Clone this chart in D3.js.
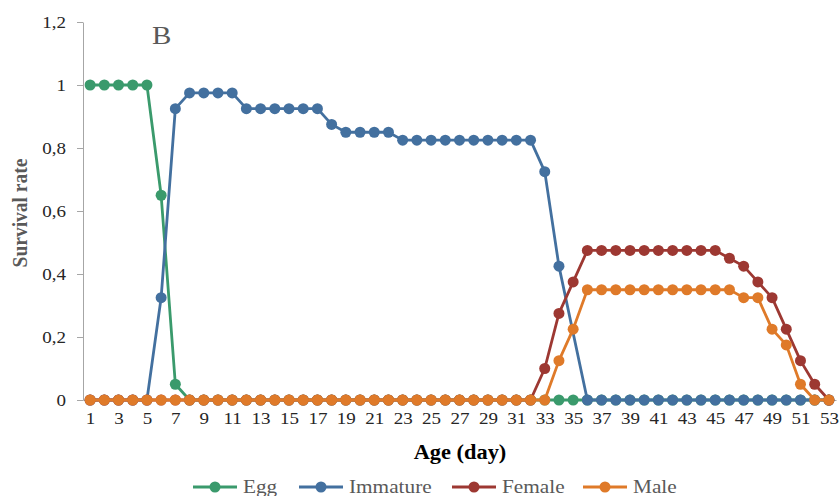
<!DOCTYPE html>
<html>
<head>
<meta charset="utf-8">
<script src="https://cdn.jsdelivr.net/npm/d3@7"></script>
<style>
  html, body { margin: 0; padding: 0; background: #fff; }
  svg text { font-family: "Liberation Serif", "Times New Roman", serif; }
</style>
</head>
<body>
<svg id="chart" width="839" height="496"></svg>
<script>
// Age in days
const days = d3.range(1, 54);

// Age-stage survival rates (null = no record that day)
const egg = [1, 1, 1, 1, 1, 0.65, 0.05, 0, 0, 0,
  0, 0, 0, 0, 0, 0, 0, 0, 0, 0,
  0, 0, 0, 0, 0, 0, 0, 0, 0, 0,
  0, 0, 0, 0, 0, 0, 0, 0, 0, 0,
  0, 0, 0, 0, 0, 0, 0, 0, 0, 0,
  0, 0, 0];
const immature = [0, 0, 0, 0, 0, 0.325, 0.925, 0.975, 0.975, 0.975,
  0.975, 0.925, 0.925, 0.925, 0.925, 0.925, 0.925, 0.875, 0.85, 0.85,
  0.85, 0.85, 0.825, 0.825, 0.825, 0.825, 0.825, 0.825, 0.825, 0.825,
  0.825, 0.825, 0.725, 0.425, null, 0, 0, 0, 0, 0,
  0, 0, 0, 0, 0, 0, 0, 0, 0, 0,
  0, 0, 0];
const female = [0, 0, 0, 0, 0, 0, 0, 0, 0, 0,
  0, 0, 0, 0, 0, 0, 0, 0, 0, 0,
  0, 0, 0, 0, 0, 0, 0, 0, 0, 0,
  0, 0, 0.1, 0.275, 0.375, 0.475, 0.475, 0.475, 0.475, 0.475,
  0.475, 0.475, 0.475, 0.475, 0.475, 0.45, 0.425, 0.375, 0.325, 0.225,
  0.125, 0.05, 0];
const male = [0, 0, 0, 0, 0, 0, 0, 0, 0, 0,
  0, 0, 0, 0, 0, 0, 0, 0, 0, 0,
  0, 0, 0, 0, 0, 0, 0, 0, 0, 0,
  0, 0, 0, 0.125, 0.225, 0.35, 0.35, 0.35, 0.35, 0.35,
  0.35, 0.35, 0.35, 0.35, 0.35, 0.35, 0.325, 0.325, 0.225, 0.175,
  0.05, 0, 0];

const seriesNames = ["Egg", "Immature", "Female", "Male"];
const seriesValues = [egg, immature, female, male];
const seriesColors = ["#3a9a6c", "#43709f", "#9d3832", "#df7a29"];

const yTicks = [0, 0.2, 0.4, 0.6, 0.8, 1, 1.2];
const xTickLabels = days.filter(d => d % 2 === 1);

const svg = d3.select("#chart");
const plot = { left: 83, right: 836, top: 22, bottom: 400 };
const SX = 1.12; // slightly wide lettering

const x = d3.scalePoint()
  .domain(days)
  .range([plot.left, plot.right])
  .padding(0.5);

const y = d3.scaleLinear()
  .domain([0, 1.2])
  .range([plot.bottom, plot.top]);

const fmt = v => String(v).replace(".", ",");

// y axis
const yAxis = svg.append("g")
  .attr("transform", `translate(${plot.left},0)`)
  .call(d3.axisLeft(y).tickValues(yTicks).tickFormat(fmt).tickSize(6).tickSizeOuter(0));
yAxis.select(".domain").attr("stroke", "#a6a6a6");
yAxis.selectAll(".tick line").attr("stroke", "#a6a6a6");
yAxis.selectAll(".tick text")
  .attr("x", -17 / SX)
  .attr("transform", `scale(${SX},1)`)
  .attr("font-size", 17)
  .attr("fill", "#262626");

// x axis
const xAxis = svg.append("g")
  .attr("transform", `translate(0,${plot.bottom})`)
  .call(d3.axisBottom(x).tickValues(xTickLabels).tickSize(0).tickSizeOuter(0));
xAxis.select(".domain").attr("stroke", "#a6a6a6");
xAxis.selectAll(".tick text")
  .attr("y", 12)
  .attr("transform", `scale(${SX},1)`)
  .attr("font-size", 17)
  .attr("fill", "#262626");

// series lines and markers
seriesValues.forEach((vals, i) => {
  const pts = days.map((d, j) => ({ d, v: vals[j] })).filter(p => p.v !== null);
  const line = d3.line().x(p => x(p.d)).y(p => y(p.v));
  const g = svg.append("g");
  g.append("path")
    .datum(pts)
    .attr("d", line)
    .attr("fill", "none")
    .attr("stroke", seriesColors[i])
    .attr("stroke-width", 2.8)
    .attr("stroke-linejoin", "round");
  g.selectAll("circle")
    .data(pts)
    .join("circle")
    .attr("cx", p => x(p.d))
    .attr("cy", p => y(p.v))
    .attr("r", 5.5)
    .attr("fill", seriesColors[i]);
});

// wide text helper
function wideText(px, py, size) {
  return svg.append("text")
    .attr("transform", `translate(${px},${py}) scale(${SX},1)`)
    .attr("font-size", size);
}

// panel letter
wideText(152, 44, 26).attr("fill", "#595959").text("B");

// axis titles
wideText(460, 459, 20)
  .attr("text-anchor", "middle")
  .attr("font-weight", "bold")
  .attr("fill", "#000")
  .text("Age (day)");

svg.append("text")
  .attr("transform", `translate(27,213) rotate(-90) scale(1,${SX})`)
  .attr("text-anchor", "middle")
  .attr("font-size", 19.5)
  .attr("font-weight", "bold")
  .attr("fill", "#595959")
  .text("Survival rate");

// legend
const legendX = [193, 299, 452, 583];
seriesNames.forEach((name, i) => {
  const g = svg.append("g").attr("transform", `translate(${legendX[i]},487)`);
  g.append("line")
    .attr("x1", 0).attr("x2", 44)
    .attr("stroke", seriesColors[i])
    .attr("stroke-width", 2.8);
  g.append("circle")
    .attr("cx", 22).attr("r", 5.5)
    .attr("fill", seriesColors[i]);
  g.append("text")
    .attr("transform", `translate(50,6) scale(${SX},1)`)
    .attr("font-size", 19)
    .attr("fill", "#595959")
    .text(name);
});
</script>
</body>
</html>
